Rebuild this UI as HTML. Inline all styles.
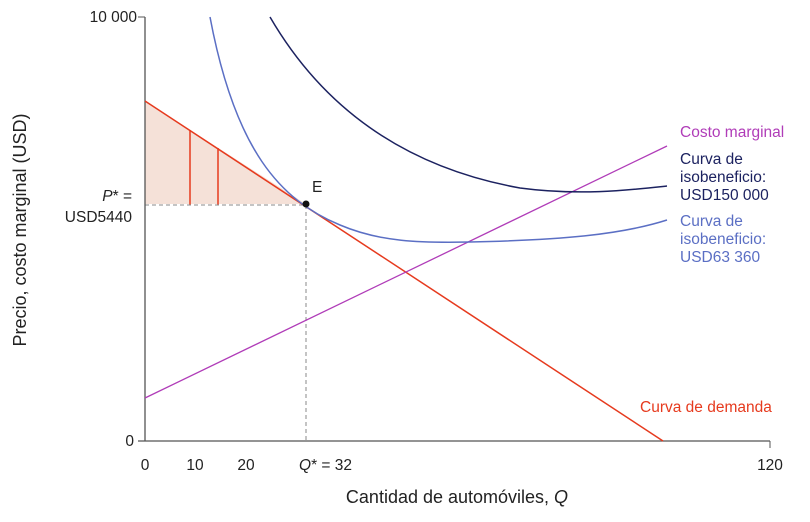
<!DOCTYPE html>
<html><head><meta charset="utf-8"><style>
body{margin:0;background:#fff}
text{font-family:"Liberation Sans",sans-serif;font-size:15.5px;fill:#222}
</style></head><body>
<svg width="810" height="517" viewBox="0 0 810 517">
<polygon points="145,101 306,204 145,204" fill="#f5e1d8"/>
<line x1="190" y1="130" x2="190" y2="205" stroke="#e63a1e" stroke-width="1.5"/>
<line x1="218" y1="148" x2="218" y2="205" stroke="#e63a1e" stroke-width="1.5"/>
<line x1="145" y1="205" x2="306" y2="205" stroke="#888" stroke-dasharray="4,3"/>
<line x1="306" y1="205" x2="306" y2="441" stroke="#888" stroke-dasharray="4,3"/>
<line x1="145" y1="17" x2="145" y2="441" stroke="#555" stroke-width="1.3"/>
<line x1="138" y1="441" x2="770" y2="441" stroke="#555" stroke-width="1.3"/>
<line x1="138" y1="17" x2="145" y2="17" stroke="#555"/>
<line x1="770" y1="441" x2="770" y2="448" stroke="#555"/>
<line x1="145" y1="101" x2="663" y2="441" stroke="#e63a1e" stroke-width="1.5"/>
<line x1="145" y1="398" x2="667" y2="146" stroke="#b03cb8" stroke-width="1.3"/>
<path d="M210,17 C235,150 280,200 340,225 C380,242 420,243 470,242 C560,240 620,235 667,220" fill="none" stroke="#5b6fc4" stroke-width="1.5"/>
<path d="M270,17 C330,120 420,170 520,188 C580,196 630,190 667,186" fill="none" stroke="#1c2260" stroke-width="1.5"/>
<circle cx="306" cy="204" r="3.5" fill="#111"/>
<text x="312" y="192">E</text>
<text x="137" y="22" text-anchor="end">10 000</text>
<text x="134" y="446" text-anchor="end">0</text>
<text x="145" y="470" text-anchor="middle">0</text>
<text x="195" y="470" text-anchor="middle">10</text>
<text x="246" y="470" text-anchor="middle">20</text>
<text x="299" y="470"><tspan font-style="italic">Q</tspan>* = 32</text>
<text x="770" y="470" text-anchor="middle">120</text>
<text x="132" y="201" text-anchor="end"><tspan font-style="italic">P</tspan>* =</text>
<text x="132" y="222" text-anchor="end">USD5440</text>
<text x="457" y="503" text-anchor="middle" style="font-size:18px">Cantidad de automóviles, <tspan font-style="italic">Q</tspan></text>
<text transform="translate(26,230) rotate(-90)" text-anchor="middle" style="font-size:18px">Precio, costo marginal (USD)</text>
<text x="680" y="137" style="fill:#b03cb8">Costo marginal</text>
<text x="680" y="164" style="fill:#1c2260">Curva de</text>
<text x="680" y="182" style="fill:#1c2260">isobeneficio:</text>
<text x="680" y="200" style="fill:#1c2260">USD150 000</text>
<text x="680" y="226" style="fill:#5b6fc4">Curva de</text>
<text x="680" y="244" style="fill:#5b6fc4">isobeneficio:</text>
<text x="680" y="262" style="fill:#5b6fc4">USD63 360</text>
<text x="640" y="412" style="fill:#e63a1e">Curva de demanda</text>
</svg>
</body></html>
